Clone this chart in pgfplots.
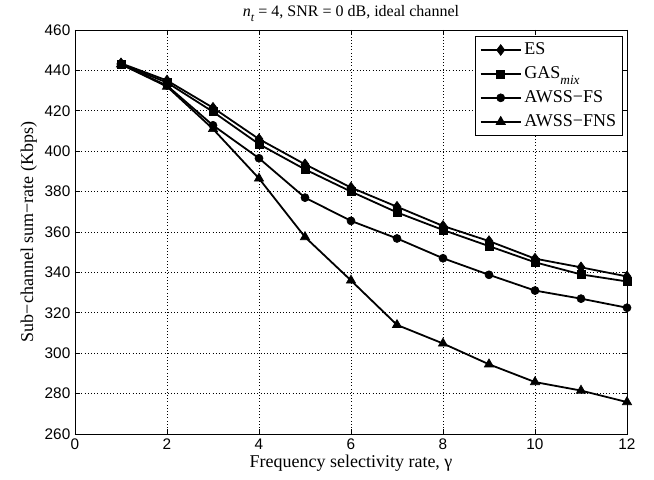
\documentclass[border=0pt]{standalone}
\usepackage{fontspec}
\setmainfont{Liberation Serif}
\setsansfont{Liberation Sans}
\usepackage{pgfplots}
\pgfplotsset{compat=1.18}
\begin{document}
\begin{tikzpicture}
\begin{axis}[
  name=ax,
  width=414pt, height=303pt, scale only axis,
  xmin=0, xmax=12, ymin=260, ymax=460,
  xtick={0,2,...,12}, ytick={260,280,...,460},
  grid=major,
  major grid style={dotted, black, line width=0.5pt},
  axis line style={black, line width=0.5pt},
  tick align=inside, xtick pos=both, ytick pos=both,
  major tick length=4pt,
  tick style={black, line width=0.5pt},
  tick label style={font=\sffamily\fontsize{11.5}{13}\selectfont},
  /pgf/number format/assume math mode=true,
  /pgf/number format/1000 sep={},
  xlabel={Frequency selectivity rate, γ},
  ylabel={Sub−channel sum−rate (Kbps)},
  label style={font=\fontsize{13.5}{15}\selectfont},
  xlabel style={yshift=3pt},
  ylabel style={yshift=-1pt},
  title={\textit{n}\raisebox{-0.6ex}{\fontsize{9}{10}\selectfont\textit{t}} = 4, SNR = 0 dB, ideal channel},
  title style={font=\fontsize{12}{14}\selectfont, yshift=-3pt},
  legend style={at={(0.993,0.985)}, anchor=north east, draw=black, line width=0.5pt,
    font=\fontsize{13.5}{15}\selectfont, row sep=3.5pt, inner sep=3pt},
  legend cell align=left,
  legend image code/.code={\draw[mark repeat=2,mark phase=2] plot coordinates {(0cm,0cm)(0.53cm,0cm)(1.06cm,0cm)};},
  every axis plot/.append style={black, line width=1.35pt, mark options={solid, fill=black, line width=0.5pt}},
]
\addplot[mark=diamond*, mark size=4pt] coordinates {
(1,443.5) (2,435) (3,421.5) (4,406) (5,393.5) (6,382) (7,372.5) (8,363) (9,355.5) (10,346.8) (11,342.5) (12,338)};
\addlegendentry{ES}
\addplot[mark=square*, mark size=3pt] coordinates {
(1,443) (2,434) (3,419.5) (4,403.5) (5,391) (6,380) (7,369.7) (8,361) (9,353) (10,345) (11,339) (12,335.5)};
\addlegendentry{GAS\raisebox{-0.7ex}{\fontsize{10}{11}\selectfont\textit{mix}}}
\addplot[mark=*, mark size=3pt] coordinates {
(1,443) (2,432.5) (3,412.8) (4,396.5) (5,377) (6,365.5) (7,356.8) (8,347) (9,338.8) (10,331) (11,327) (12,322.5)};
\addlegendentry{AWSS−FS}
\addplot[mark=triangle*, mark size=4pt] coordinates {
(1,443) (2,432) (3,411) (4,386.5) (5,357.5) (6,336) (7,314) (8,304.8) (9,294.5) (10,285.7) (11,281.5) (12,275.8)};
\addlegendentry{AWSS−FNS}
\coordinate (bbsw) at (rel axis cs:0,0);
\coordinate (bbne) at (rel axis cs:1,1);
\end{axis}
\path ([shift={(-56.25pt,-34.5pt)}]bbsw) rectangle ([shift={(20.25pt,22.5pt)}]bbne);
\end{tikzpicture}
\end{document}
